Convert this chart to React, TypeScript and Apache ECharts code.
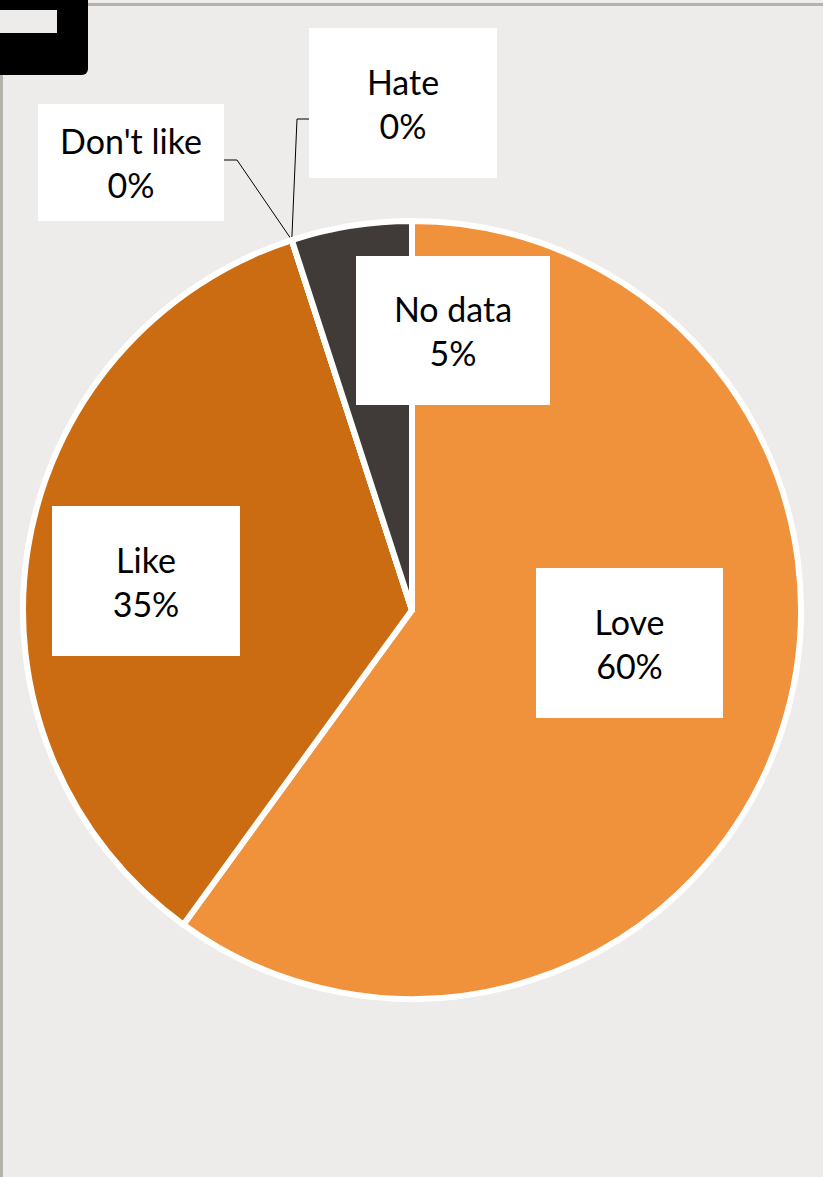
import React, { useEffect, useRef } from "react";
import * as echarts from "echarts";

const categories = ["Love", "Like", "Don't like", "Hate", "No data"];
const values = [60, 35, 0, 0, 5];
const colors = ["#F0923C", "#CC6C12", "#CC6C12", "#403B38", "#403B38"];

// label box centres and leader-line elbows (layout only)
const labelCenters: [number, number][] = [
  [629.5, 643],
  [146, 581],
  [131, 162.5],
  [403, 103],
  [453, 330.5],
];
const leaderElbows: ([number, number][] | null)[] = [
  null,
  null,
  [[237, 160], [224, 160]],
  [[297, 119], [309, 119]],
  null,
];
const boxSizes: [number, number][] = [
  [187, 150],
  [188, 150],
  [186, 117],
  [188, 150],
  [194, 149],
];

export default function App() {
  const ref = useRef<HTMLDivElement>(null);
  useEffect(() => {
    if (!ref.current) return;
    const chart = echarts.init(ref.current, null, { renderer: "svg" });
    const data = categories.map((name, i) => {
      const [w, h] = boxSizes[i];
      const lineH = 44;
      const padV = (h - 2 * lineH) / 2;
      const outside = leaderElbows[i] !== null;
      return {
        name,
        value: values[i],
        itemStyle: { color: colors[i] },
        label: {
          position: outside ? "outside" : "inside",
          width: w,
          padding: [padV, 0, padV, 0],
        },
        labelLine: { show: outside },
      };
    });
    chart.setOption({
      animation: false,
      backgroundColor: "#EDECEA",
      graphic: [
        { type: "rect", shape: { x: 88, y: 3, width: 735, height: 3 }, style: { fill: "#B5B2AC" } },
        { type: "rect", shape: { x: 0, y: 70, width: 3, height: 1107 }, style: { fill: "#B5B2AC" } },
        { type: "rect", shape: { x: 0, y: 0, width: 88, height: 75, r: [0, 0, 6, 0] }, style: { fill: "#000000" } },
        { type: "rect", shape: { x: 0, y: 10, width: 57, height: 23 }, style: { fill: "#EDECEA" } },
      ],
      series: [
        {
          type: "pie",
          center: [412, 610],
          radius: 389,
          startAngle: 90,
          clockwise: true,
          avoidLabelOverlap: false,
          itemStyle: { borderColor: "#FFFFFF", borderWidth: 6 },
          label: {
            show: true,
            formatter: (p: any) => `${p.name}\n${Math.round(p.percent)}%`,
            fontFamily: "Lato",
            fontSize: 34,
            lineHeight: 44,
            color: "#000000",
            backgroundColor: "#FFFFFF",
            align: "center",
          },
          labelLine: {
            show: true,
            lineStyle: { color: "#000000", width: 1 },
          },
          labelLayout: (params: any) => {
            const i = params.dataIndex;
            const [x, y] = labelCenters[i];
            const res: any = { x, y, align: "center", verticalAlign: "middle" };
            const elbows = leaderElbows[i];
            if (elbows && params.labelLinePoints) {
              res.labelLinePoints = [params.labelLinePoints[0], elbows[0], elbows[1]];
            }
            return res;
          },
          data,
        },
      ],
    });
    return () => chart.dispose();
  }, []);
  return (
    <div
      ref={ref}
      style={{ position: "fixed", left: 0, top: 0, width: 823, height: 1177 }}
    />
  );
}
